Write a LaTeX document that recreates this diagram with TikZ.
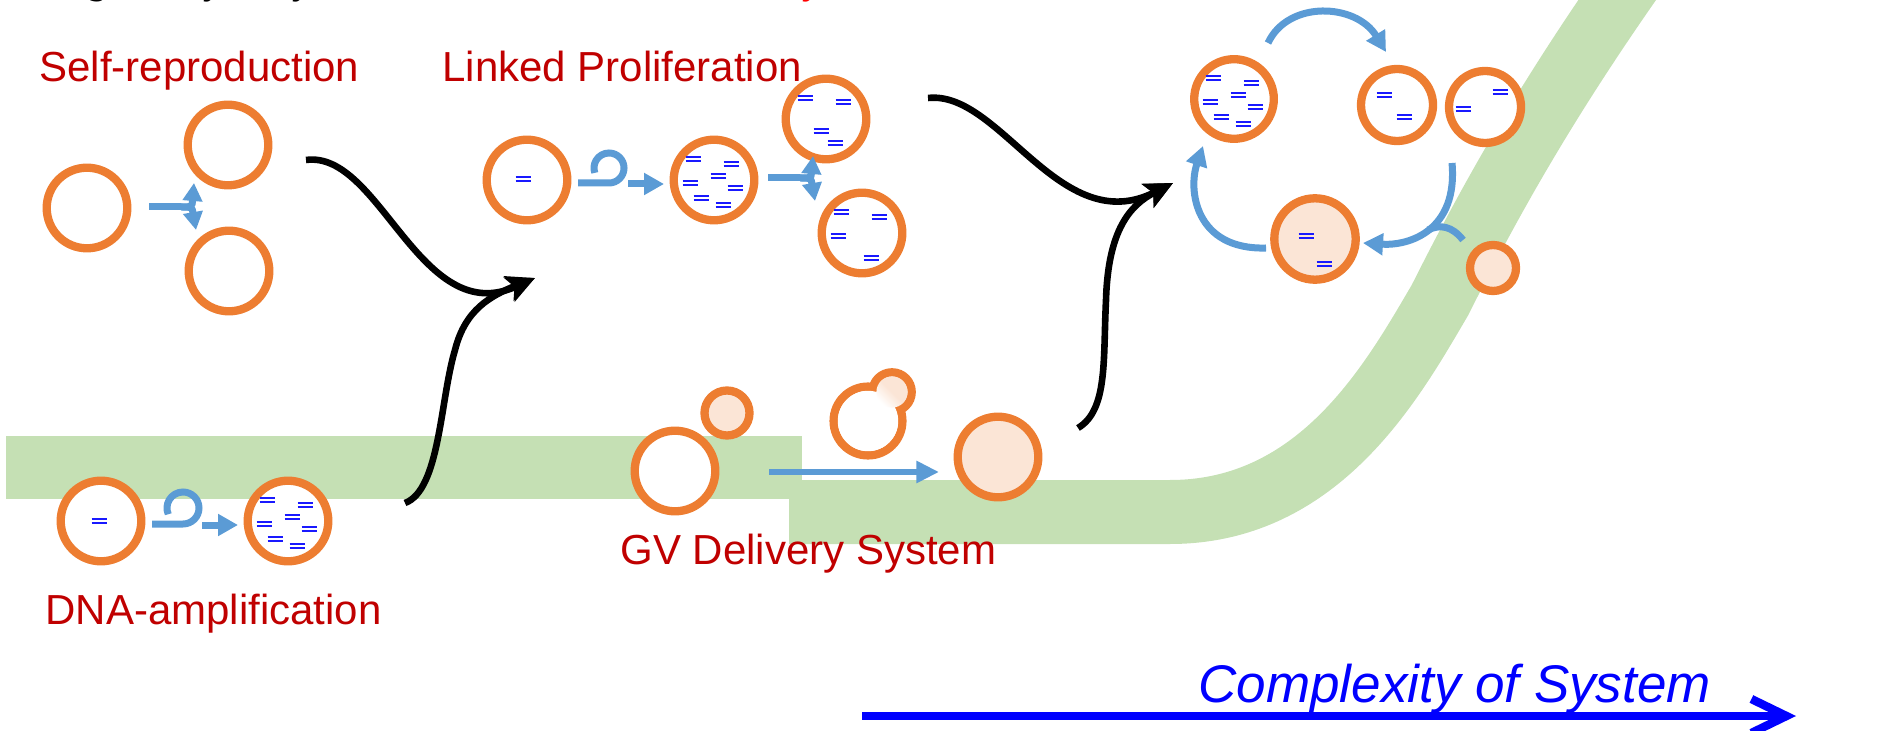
\documentclass[tikz,border=0pt]{standalone}
\usepackage{fontspec}
\setmainfont{Liberation Sans}
\newfontfamily\titlefont{Liberation Serif}
\usepackage{tikz}
\usetikzlibrary{positioning,arrows.meta,calc}

\definecolor{cellorange}{HTML}{ED7D31}
\definecolor{cellfill}{HTML}{FBE5D6}
\definecolor{arrowblue}{HTML}{5B9BD5}
\definecolor{bandgreen}{HTML}{C5E0B4}
\definecolor{labelred}{HTML}{C00000}
\definecolor{dnablue}{RGB}{25,25,255}

% posizioni dei plasmidi dentro una cellula piena
\newcommand{\dnaset}{-21/-21,17/-16,4/-4,-24/3,21/8,-13/18,9/25}

\begin{document}
\begin{tikzpicture}[x=0.5pt,y=-0.5pt,
    cell/.style={circle,draw=cellorange,line width=4.15pt,fill=white,inner sep=0pt,minimum size=40.3pt},
    peachcell/.style={cell,fill=cellfill},
    stagename/.style={text=labelred,font=\fontsize{21}{25}\selectfont,anchor=base west,inner sep=0pt},
    titlebit/.style={font=\titlefont\itshape\fontsize{20}{24}\selectfont,anchor=base,inner sep=0pt},
    flow/.style={line width=3.3pt,-{Stealth[length=14pt,width=13pt,inset=3pt]}},
    blueflow/.style={draw=arrowblue,line width=3.5pt},
    bluetip/.style={-{Triangle[length=10pt,width=10.5pt]}},
    forktip/.style={-{Triangle[length=9pt,width=9.5pt]}},
    dnaline/.style={draw=dnablue,line width=0.85pt},
    dnabar/.pic={\draw[dnaline] (-7.5,-1.8) -- (7.5,-1.8) (-7.5,1.8) -- (7.5,1.8);}
  ]
  \useasboundingbox (0,0) rectangle (1882,731);
  \clip (0,0) rectangle (1882,731);

  % banda verde
  \fill[bandgreen] (6,436) rectangle (802,499);
  \draw[bandgreen,line width=32pt] (789,512) -- (1170,512) .. controls (1320,512) and (1393,380) .. (1440,300) .. controls (1500,180) and (1560,80) .. (1645,-40);

  % titolo tagliato in alto
  \node[titlebit] (tg1) at (100,-6) {g};
  \node[titlebit] (tg2) at (216,-6) {y};
  \node[titlebit] (tg3) at (305,-6) {y};
  \node[titlebit,text=red] (tg4) at (815,-6) {y};

  % Self-reproduction
  \node[stagename] (srlab) at (39,82) {Self-reproduction};
  \node[cell] (sr1) at (87,208) {};
  \node[cell] (sr2) at (228,145) {};
  \node[cell] (sr3) at (229,271) {};
  \coordinate (srfork) at (149,207);
  \coordinate (srsplit) at (181,207);
  \coordinate (srup) at (194,183);
  \coordinate (srdown) at (196,230);
  \draw[blueflow] (srfork) -- (srsplit);
  \draw[blueflow,forktip] (srsplit) .. controls (192,207) .. (srup);
  \draw[blueflow,forktip] (srsplit) .. controls (192,207) .. (srdown);

  % Linked Proliferation
  \node[stagename] (lplab) at (442,82) {Linked Proliferation};
  \node[cell] (lp1) at (527,180) {};
  \node[cell] (lp2) at (714,180) {};
  \node[cell] (lp3) at (826,119) {};
  \node[cell] (lp4) at (862,233) {};
  \coordinate (lploop) at (578,183);
  \draw[blueflow] (lploop) -- (609,183) arc[start angle=-90,end angle=199,radius=7.5pt];
  \coordinate (lpa) at (628,184);
  \coordinate (lpb) at (664,184);
  \draw[blueflow,bluetip] (lpa) -- (lpb);
  \coordinate (lpfork) at (768,178);
  \coordinate (lpsplit) at (800,178);
  \coordinate (lpup) at (813,156);
  \coordinate (lpdown) at (815,201);
  \draw[blueflow] (lpfork) -- (lpsplit);
  \draw[blueflow,forktip] (lpsplit) .. controls (811,178) .. (lpup);
  \draw[blueflow,forktip] (lpsplit) .. controls (811,178) .. (lpdown);
  \pic at ($(lp1)+(-4,-1)$) {dnabar};
  \foreach \dx/\dy in {-21/-21,17/-17,-5/12,9/24}
    \pic at ($(lp3)+(\dx,\dy)$) {dnabar};
  \foreach \dx/\dy in {-21/-21,17/-16,-24/3,9/25}
    \pic at ($(lp4)+(\dx,\dy)$) {dnabar};

  % DNA-amplification
  \node[stagename] (dalab) at (45,624) {DNA-amplification};
  \node[cell] (da1) at (101,521) {};
  \node[cell] (da2) at (288,521) {};
  \coordinate (daloop) at (152,524);
  \draw[blueflow] (daloop) -- (183,524) arc[start angle=-90,end angle=203,radius=8pt];
  \coordinate (daa) at (202,525);
  \coordinate (dab) at (238,525);
  \draw[blueflow,bluetip] (daa) -- (dab);
  \pic at ($(da1)+(-2,0)$) {dnabar};

  % GV Delivery System
  \node[stagename] (gvlab) at (620,564) {GV Delivery System};
  \node[cell] (gv1) at (675,471) {};
  \node[peachcell,minimum size=22.5pt] (gv2) at (727,413) {};
  \node[cell,fill=none,minimum size=34.4pt] (gv3) at (868,421) {};
  \node[cell,fill=none,minimum size=19.7pt] (bud) at (892,392) {};
  \fill[white] (gv3.center) circle[radius=15.1pt];
  \shade[top color=cellfill,bottom color=white,middle color=cellfill,shading angle=-45] (bud.center) circle[radius=7.8pt];
  \node[peachcell] (gv4) at (998,457) {};
  \coordinate (gva) at (769,472);
  \coordinate (gvb) at (939,472);
  \draw[blueflow,line width=3.3pt,-{Triangle[length=11.3pt,width=10.5pt]}] (gva) -- (gvb);

  % ciclo a destra
  \node[cell,minimum size=39.8pt] (cy1) at (1234,99) {};
  \node[cell,minimum size=36pt] (cy2) at (1397,105) {};
  \node[cell,minimum size=36pt] (cy3) at (1485,107) {};
  \node[peachcell,minimum size=40.7pt] (cy4) at (1315,239) {};
  \node[peachcell,minimum size=23pt] (cy5) at (1493,268) {};
  \foreach \dx/\dy in {-13/-10,7/12}
    \pic at ($(cy2)+(\dx,\dy)$) {dnabar};
  \foreach \dx/\dy in {15/-15,-22/2}
    \pic at ($(cy3)+(\dx,\dy)$) {dnabar};
  \foreach \dx/\dy in {-9/-3,9/25}
    \pic at ($(cy4)+(\dx,\dy)$) {dnabar};
  \coordinate (ct0) at (1268,43);
  \coordinate (ct1) at (1386,52);
  \draw[blueflow,bluetip] (ct0) .. controls (1288,0) and (1356,3) .. (ct1);
  \coordinate (cr0) at (1452,163);
  \coordinate (cr1) at (1363,243);
  \draw[blueflow,bluetip] (cr0) .. controls (1458,230) and (1410,246) .. (cr1);
  \coordinate (cb0) at (1463,240);
  \coordinate (cb1) at (1428,230);
  \draw[blueflow] (cb0) .. controls (1452,226) and (1440,224) .. (cb1);
  \coordinate (cl0) at (1266,248);
  \coordinate (cl1) at (1203,146);
  \draw[blueflow,bluetip] (cl0) .. controls (1195,250) and (1188,190) .. (cl1);

  % plasmidi nelle cellule piene
  \foreach \cel in {lp2,da2,cy1}
    \foreach \dx/\dy in \dnaset
      \pic at ($(\cel)+(\dx,\dy)$) {dnabar};

  % frecce nere
  \coordinate (srout) at (306,160);
  \coordinate (daout) at (405,503);
  \coordinate (lpin) at (535,278);
  \coordinate (lpout) at (928,98);
  \coordinate (gvout) at (1078,428);
  \coordinate (cyin) at (1173,183);
  \draw[flow] (srout) .. controls (380,150) and (420,330) .. (lpin);
  \draw[flow] (daout) .. controls (440,490) and (440,400) .. (455,350) .. controls (465,310) and (490,296) .. (lpin);
  \draw[flow] (lpout) .. controls (1000,90) and (1060,240) .. (cyin);
  \draw[flow] (gvout) .. controls (1108,410) and (1103,360) .. (1106,300) .. controls (1108,230) and (1130,205) .. (cyin);

  % asse complessita
  \coordinate (cx0) at (862,716);
  \coordinate (cx1) at (1796,716);
  \draw[blue,line width=4.2pt,-{Straight Barb[length=17.5pt,width=17pt]}] (cx0) -- (cx1);
  \node[font=\itshape\fontsize{26.5}{30}\selectfont,text=blue,anchor=base west,inner sep=0pt] (cxlab) at (1198,702) {Complexity of System};
\end{tikzpicture}
\end{document}
